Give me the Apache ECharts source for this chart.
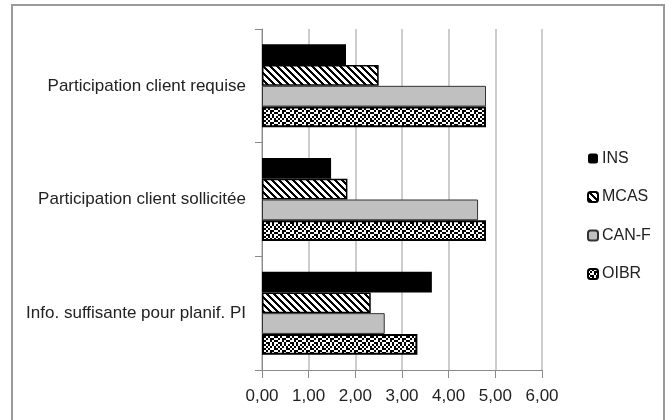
<!DOCTYPE html>
<html>
<head>
<meta charset="utf-8">
<script src="https://cdn.jsdelivr.net/npm/echarts@6/dist/echarts.min.js"></script>
<style>
  html, body { margin: 0; padding: 0; background: #fff; }
  #chart { width: 672px; height: 420px; }
</style>
</head>
<body>
<div id="chart"></div>
<script>
// Categories listed bottom-to-top (ECharts category y axis grows upward)
const categories = [
  'Info. suffisante pour planif. PI',
  'Participation client sollicitée',
  'Participation client requise'
];
const seriesNames = ['INS', 'MCAS', 'CAN-F', 'OIBR'];
const insValues  = [3.64, 1.48, 1.80];
const mcasValues = [2.33, 1.83, 2.50];
const canfValues = [2.63, 4.63, 4.80];
const oibrValues = [3.33, 4.80, 4.80];
const xTicks = [0, 1, 2, 3, 4, 5, 6];

// Diagonal "\" hatch tile: black and white bands
function stripeTile() {
  const size = 7;
  const c = document.createElement('canvas');
  c.width = size; c.height = size;
  const ctx = c.getContext('2d');
  ctx.fillStyle = '#fff';
  ctx.fillRect(0, 0, size, size);
  ctx.fillStyle = '#000';
  for (let y = 0; y < size; y++) {
    for (let x = 0; x < size; x++) {
      if (((x - y) % size + size) % size < 3) ctx.fillRect(x, y, 1, 1);
    }
  }
  return c;
}

// Confetti stipple tile built from 2x2 cells
function stippleTile() {
  const rows = [
    'X.X..X',
    '.X.XX.',
    'X..X.X',
    '.XX.X.',
    'X.X.X.',
    '.X.X.X'
  ];
  const cell = 2;
  const n = rows.length * cell;
  const c = document.createElement('canvas');
  c.width = n; c.height = n;
  const ctx = c.getContext('2d');
  ctx.fillStyle = '#fff';
  ctx.fillRect(0, 0, n, n);
  ctx.fillStyle = '#000';
  rows.forEach((r, y) => {
    for (let x = 0; x < r.length; x++) {
      if (r[x] === 'X') ctx.fillRect(x * cell, y * cell, cell, cell);
    }
  });
  return c;
}

const stripes = { image: stripeTile(), repeat: 'repeat' };
const stipple = { image: stippleTile(), repeat: 'repeat' };

const FONT = '"Liberation Sans", Arial, sans-serif';

const chart = echarts.init(document.getElementById('chart'), null, { renderer: 'canvas' });

function bar(name, values, itemStyle) {
  return {
    name: name,
    type: 'bar',
    data: values,
    barGap: '0%',
    barCategoryGap: '27%',
    itemStyle: itemStyle,
    emphasis: { disabled: true }
  };
}

chart.setOption({
  animation: false,
  backgroundColor: '#fff',
  grid: { left: 262, right: 130, top: 29, bottom: 50, containLabel: false },
  xAxis: {
    type: 'value',
    min: xTicks[0],
    max: xTicks[xTicks.length - 1],
    interval: 1,
    axisLine: { show: true, lineStyle: { color: '#8a8a8a', width: 1 } },
    axisTick: { show: true, length: 8, lineStyle: { color: '#8a8a8a' } },
    splitLine: { show: true, lineStyle: { color: '#bdbdbd', width: 1.5 } },
    axisLabel: {
      margin: 18,
      fontFamily: FONT,
      fontSize: 17,
      color: '#222',
      formatter: v => v.toFixed(2).replace('.', ',')
    }
  },
  yAxis: {
    type: 'category',
    data: categories,
    axisLine: { show: true, lineStyle: { color: '#8a8a8a', width: 1 } },
    axisTick: { show: true, length: 7, lineStyle: { color: '#8a8a8a' } },
    axisLabel: { margin: 16, fontFamily: FONT, fontSize: 17, color: '#222' }
  },
  legend: {
    orient: 'vertical',
    left: 582,
    top: 145,
    data: seriesNames,
    itemWidth: 10,
    itemHeight: 10,
    itemGap: 21.5,
    selectedMode: false,
    textStyle: { fontFamily: FONT, fontSize: 16, color: '#222', lineHeight: 17, padding: [0, 0, 0, -1] }
  },
  graphic: [{
    type: 'rect',
    shape: { x: 12, y: 5, width: 652, height: 430 },
    style: { fill: 'none', stroke: '#9a9a9a', lineWidth: 2 },
    silent: true
  }],
  series: [
    bar('INS', insValues, { color: '#000' }),
    bar('MCAS', mcasValues, { color: stripes, borderColor: '#000', borderWidth: 1.5 }),
    bar('CAN-F', canfValues, { color: '#c0c0c0', borderColor: '#333', borderWidth: 1 }),
    bar('OIBR', oibrValues, { color: stipple, borderColor: '#000', borderWidth: 2 })
  ]
});
</script>
</body>
</html>
